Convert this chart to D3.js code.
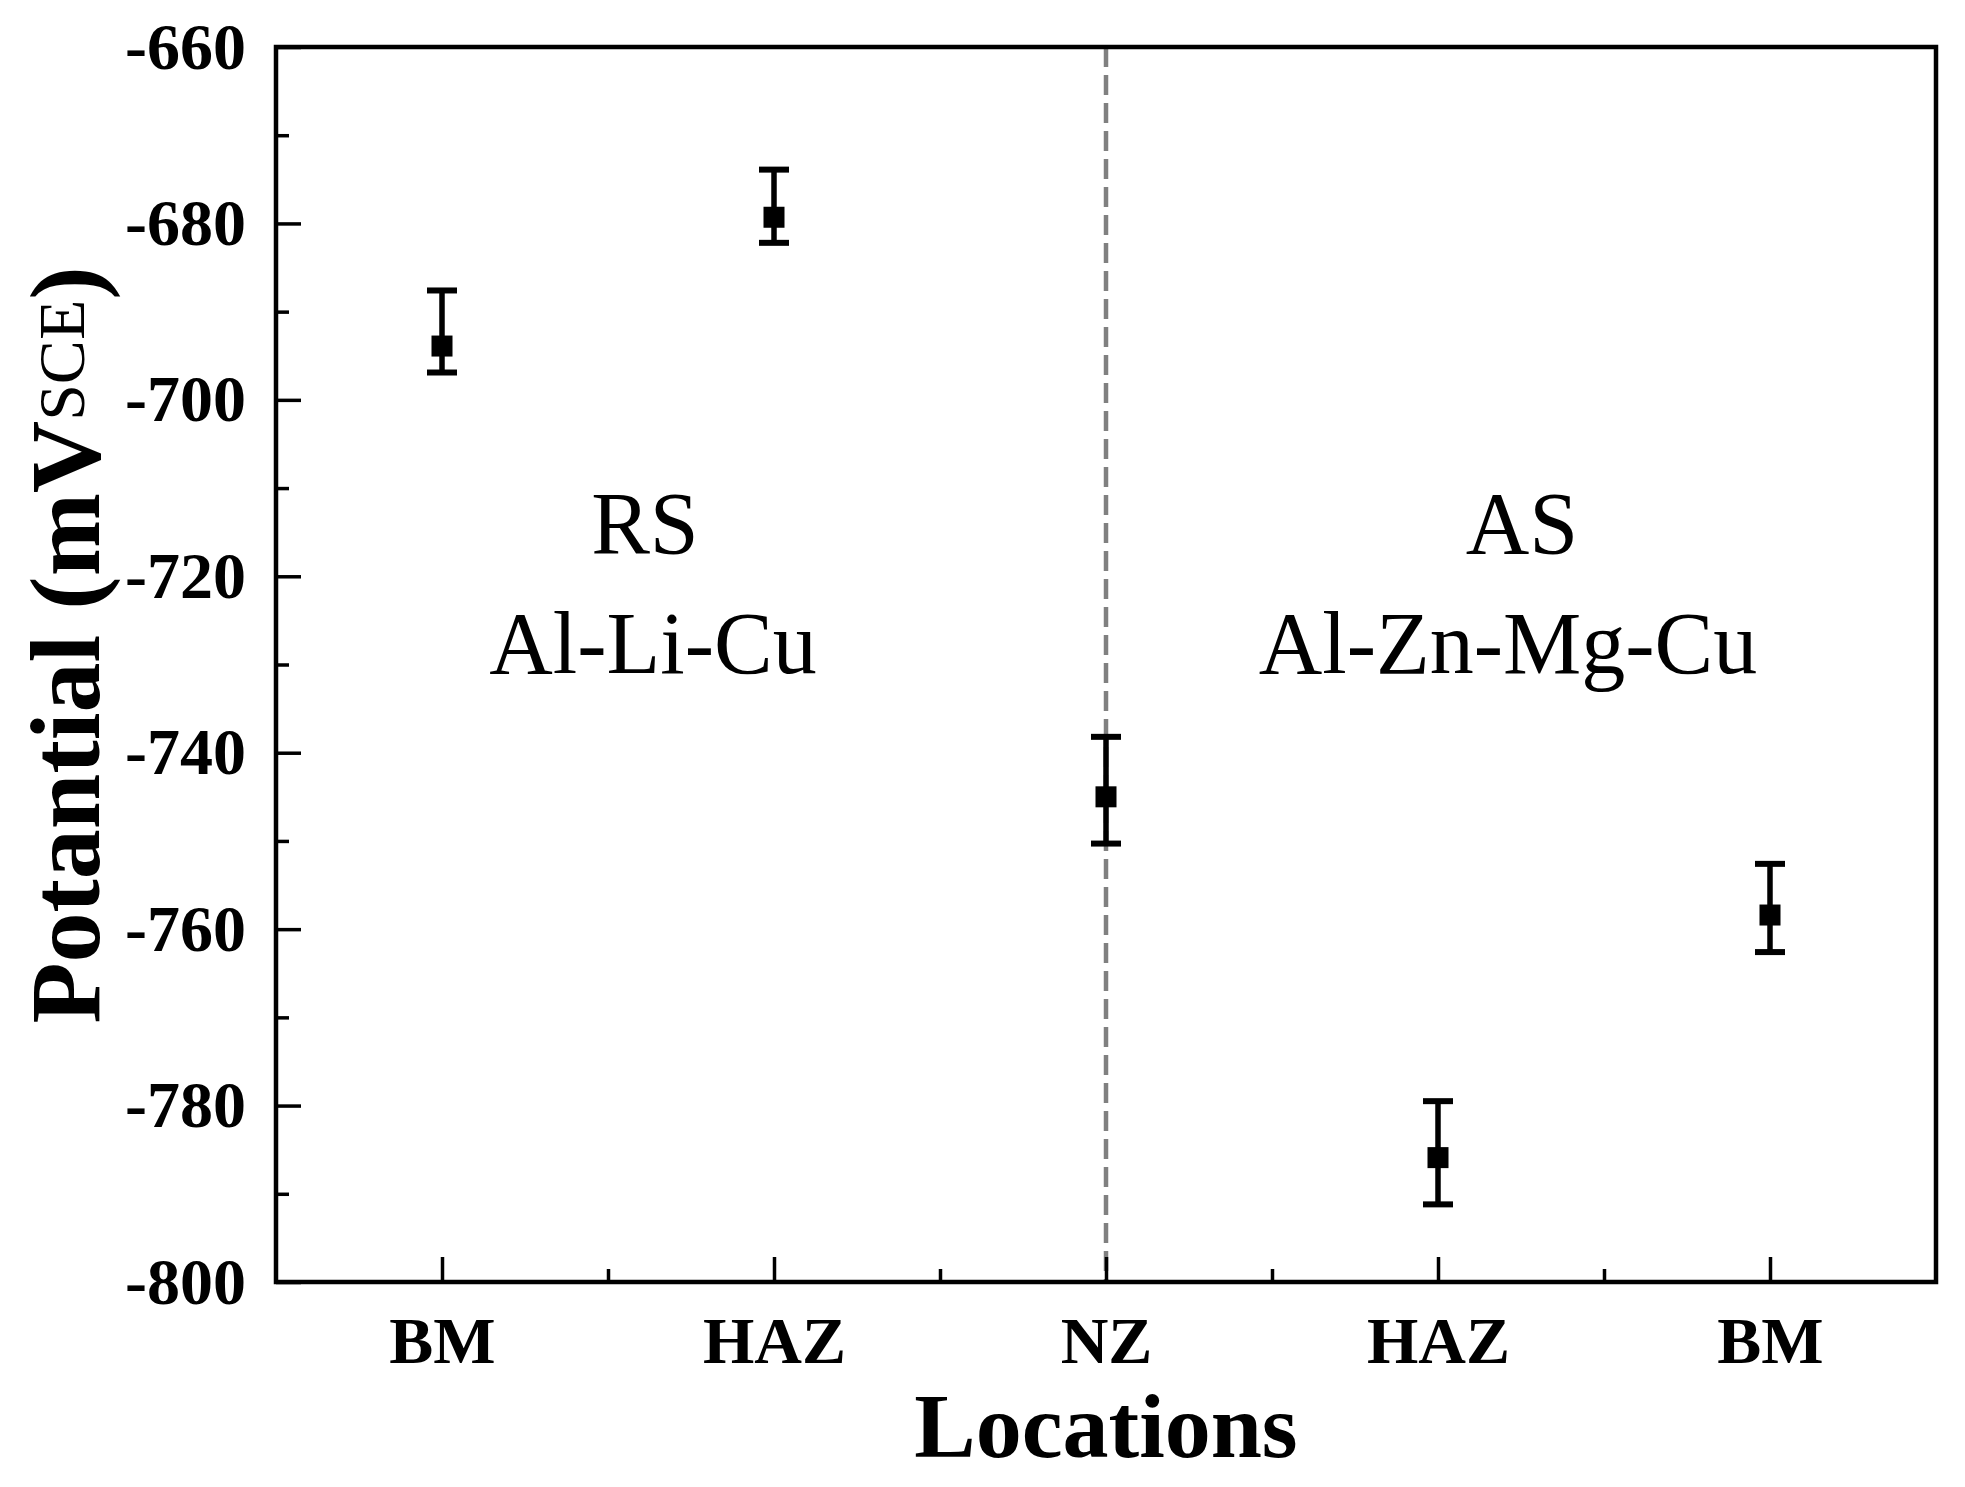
<!DOCTYPE html>
<html>
<head>
<meta charset="utf-8">
<script src="https://cdnjs.cloudflare.com/ajax/libs/d3/7.8.5/d3.min.js"></script>
<style>
  body { margin: 0; background: #fff; }
  text { font-family: "Liberation Serif", "Times New Roman", serif; fill: #000; }
</style>
</head>
<body>
<div id="chart"></div>
<script>
// data
var categories = ["BM", "HAZ", "NZ", "HAZ", "BM"];
var positions = [1, 2, 3, 4, 5];
var means = [-693.9, -679.3, -745.0, -785.9, -758.4];
var errTop = [-687.6, -673.9, -738.2, -779.5, -752.6];
var errBottom = [-696.9, -682.2, -750.3, -791.2, -762.6];
var yTicks = [-800, -780, -760, -740, -720, -700, -680, -660];
var yMinorTicks = [-790, -770, -750, -730, -710, -690, -670];
var xMinorTicks = [1.5, 2.5, 3.5, 4.5];

var width = 1965, height = 1487;
var plotLeft = 276, plotRight = 1936, plotTop = 47, plotBottom = 1282;

var svg = d3.select("#chart").append("svg")
    .attr("width", width)
    .attr("height", height);

var x = d3.scaleLinear().domain([0.5, 5.5]).range([plotLeft, plotRight]);
var y = d3.scaleLinear().domain([-800, -660]).range([plotBottom, plotTop]);

// dashed divider at NZ
svg.append("line")
    .attr("x1", x(3)).attr("x2", x(3))
    .attr("y1", plotTop).attr("y2", plotBottom)
    .attr("stroke", "#808080")
    .attr("stroke-width", 4.5)
    .attr("stroke-dasharray", "20,8");

// y axis
var yAxis = svg.append("g")
    .attr("transform", "translate(" + plotLeft + ",0)")
    .call(d3.axisLeft(y).tickValues(yTicks).tickSizeInner(-25).tickSizeOuter(0).tickPadding(30)
        .tickFormat(function(d) { return String(d); }));
yAxis.select(".domain").remove();
yAxis.selectAll("line").attr("stroke-width", 3.5);
yAxis.selectAll("text")
    .attr("font-size", 66)
    .attr("font-weight", "bold")
    .attr("font-family", "Liberation Serif");

var yMinor = svg.append("g")
    .attr("transform", "translate(" + plotLeft + ",0)")
    .call(d3.axisLeft(y).tickValues(yMinorTicks).tickSizeInner(-13).tickSizeOuter(0).tickFormat(""));
yMinor.select(".domain").remove();
yMinor.selectAll("line").attr("stroke-width", 3.5);

// x axis
var xAxis = svg.append("g")
    .attr("transform", "translate(0," + plotBottom + ")")
    .call(d3.axisBottom(x).tickValues(positions).tickSizeInner(-25).tickSizeOuter(0)
        .tickFormat(function(d, i) { return categories[i]; }));
xAxis.select(".domain").remove();
xAxis.selectAll("line").attr("stroke-width", 3.5);
xAxis.selectAll("text")
    .attr("y", 81)
    .attr("dy", null)
    .attr("font-size", 66)
    .attr("font-weight", "bold")
    .attr("font-family", "Liberation Serif");

var xMinor = svg.append("g")
    .attr("transform", "translate(0," + plotBottom + ")")
    .call(d3.axisBottom(x).tickValues(xMinorTicks).tickSizeInner(-13).tickSizeOuter(0).tickFormat(""));
xMinor.select(".domain").remove();
xMinor.selectAll("line").attr("stroke-width", 3.5);

// frame
svg.append("rect")
    .attr("x", plotLeft).attr("y", plotTop)
    .attr("width", plotRight - plotLeft).attr("height", plotBottom - plotTop)
    .attr("fill", "none")
    .attr("stroke", "#000")
    .attr("stroke-width", 4.5);

// error bars
var bars = svg.append("g").selectAll("g")
    .data(positions)
    .enter().append("g");

bars.append("line")
    .attr("x1", function(d) { return x(d); })
    .attr("x2", function(d) { return x(d); })
    .attr("y1", function(d, i) { return y(errTop[i]); })
    .attr("y2", function(d, i) { return y(errBottom[i]); })
    .attr("stroke", "#000").attr("stroke-width", 5.5);

bars.append("line")
    .attr("x1", function(d) { return x(d) - 15; })
    .attr("x2", function(d) { return x(d) + 15; })
    .attr("y1", function(d, i) { return y(errTop[i]); })
    .attr("y2", function(d, i) { return y(errTop[i]); })
    .attr("stroke", "#000").attr("stroke-width", 6);

bars.append("line")
    .attr("x1", function(d) { return x(d) - 15; })
    .attr("x2", function(d) { return x(d) + 15; })
    .attr("y1", function(d, i) { return y(errBottom[i]); })
    .attr("y2", function(d, i) { return y(errBottom[i]); })
    .attr("stroke", "#000").attr("stroke-width", 6);

bars.append("rect")
    .attr("x", function(d) { return x(d) - 10.5; })
    .attr("y", function(d, i) { return y(means[i]) - 10.5; })
    .attr("width", 21).attr("height", 21)
    .attr("fill", "#000");

// annotations
var notes = svg.append("g").attr("font-size", 88);
notes.append("text").attr("x", 645).attr("y", 553).attr("text-anchor", "middle").text("RS");
notes.append("text").attr("x", 653).attr("y", 673).attr("text-anchor", "middle").text("Al-Li-Cu");
notes.append("text").attr("x", 1522).attr("y", 553).attr("text-anchor", "middle").text("AS");
notes.append("text").attr("x", 1508).attr("y", 673).attr("text-anchor", "middle").text("Al-Zn-Mg-Cu");

// axis titles
svg.append("text")
    .attr("x", x(3)).attr("y", 1457)
    .attr("text-anchor", "middle")
    .attr("font-size", 92)
    .attr("font-weight", "bold")
    .text("Locations");

var yTitle = svg.append("text")
    .attr("transform", "translate(99,645) rotate(-90)")
    .attr("text-anchor", "middle")
    .attr("font-size", 100)
    .attr("font-weight", "bold");
yTitle.append("tspan").text("Potantial (mV");
yTitle.append("tspan").attr("font-size", 66).attr("font-weight", "normal").attr("dy", -15).text("SCE");
yTitle.append("tspan").attr("dy", 15).text(")");
</script>
</body>
</html>
